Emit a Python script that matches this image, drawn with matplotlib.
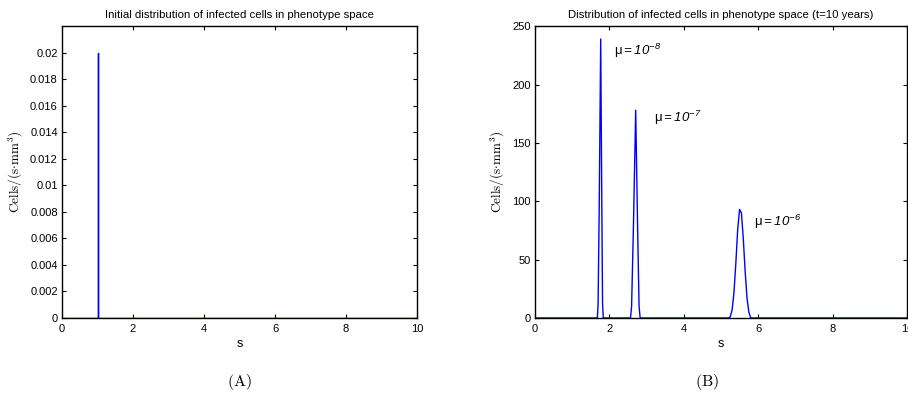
import numpy as np
import matplotlib.pyplot as plt

plt.rcParams['font.family'] = ['Liberation Sans', 'DejaVu Sans']
plt.rcParams['mathtext.fontset'] = 'custom'
plt.rcParams['mathtext.rm'] = 'Liberation Sans:italic'
plt.rcParams['mathtext.it'] = 'Liberation Sans:italic'

# panel A: initial distribution (spike at s=1)
s_init = [0, 1, 1, 1, 10]
c_init = [0, 0, 0.02, 0, 0]

# panel B: distribution at t=10 years
s_mu8 = [0, 1.68, 1.70, 1.73, 1.77, 1.80, 1.82, 1.84]
c_mu8 = [0, 0, 12, 95, 239, 95, 12, 0]
s_mu7 = [2.57, 2.60, 2.65, 2.71, 2.76, 2.80, 2.83]
c_mu7 = [0, 10, 80, 178, 80, 10, 0]
s_mu6 = [5.20, 5.25, 5.30, 5.35, 5.40, 5.45, 5.50, 5.55, 5.60, 5.65, 5.70, 5.75, 5.80, 10]
c_mu6 = [0, 1, 7, 22, 47, 76, 93, 90, 68, 40, 17, 5, 0, 0]

s_final = s_mu8 + s_mu7 + s_mu6
c_final = c_mu8 + c_mu7 + c_mu6

mu_labels = [r'μ$\mathrm{{=}10^{-8}}$', r'μ$\mathrm{{=}10^{-7}}$', r'μ$\mathrm{{=}10^{-6}}$']
mu_pos = [(2.12, 225), (3.19, 168), (5.90, 79)]

fig = plt.figure(figsize=(9.08, 3.96), dpi=100)
ax1 = fig.add_axes([0.0683, 0.197, 0.391, 0.737])
ax2 = fig.add_axes([0.589, 0.197, 0.410, 0.737])

blue = (0, 0, 1)
ax1.plot(s_init, c_init, color=blue, lw=1.0)
ax2.plot(s_final, c_final, color=blue, lw=1.0)

ax1.set_xlim(0, 10)
ax1.set_ylim(0, 0.022)
ax1.set_yticks(np.arange(0, 0.0201, 0.002))
ax1.set_yticklabels(['0', '0.002', '0.004', '0.006', '0.008', '0.01',
                     '0.012', '0.014', '0.016', '0.018', '0.02'])
ax2.set_xlim(0, 10)
ax2.set_ylim(0, 250)
ax2.set_yticks([0, 50, 100, 150, 200, 250])

for ax in (ax1, ax2):
    ax.set_xticks([0, 2, 4, 6, 8, 10])
    ax.tick_params(direction='in', top=True, right=True, length=3, width=0.8,
                   labelsize=8, pad=3)
    ax.tick_params(axis='x', pad=4)
    for sp in ax.spines.values():
        sp.set_linewidth(1.0)
    ax.set_xlabel('s', fontsize=9, labelpad=3)
    ax.set_ylabel(r'$\mathrm{Cells/(s{\cdot}mm^3)}$', fontsize=9.5, math_fontfamily='cm')

ax1.set_title('Initial distribution of infected cells in phenotype space', fontsize=8.2, pad=6)
ax2.set_title('Distribution of infected cells in phenotype space (t=10 years)', fontsize=8.2, pad=6)

for lab, (x, y) in zip(mu_labels, mu_pos):
    ax2.text(x, y, lab, fontsize=9.5, va='baseline', ha='left')

fig.text(0.264, 0.035, r'$\mathrm{(A)}$', fontsize=11.5, math_fontfamily='cm', ha='center', va='center')
fig.text(0.779, 0.035, r'$\mathrm{(B)}$', fontsize=11.5, math_fontfamily='cm', ha='center', va='center')

fig.savefig('out.png', dpi=100)
